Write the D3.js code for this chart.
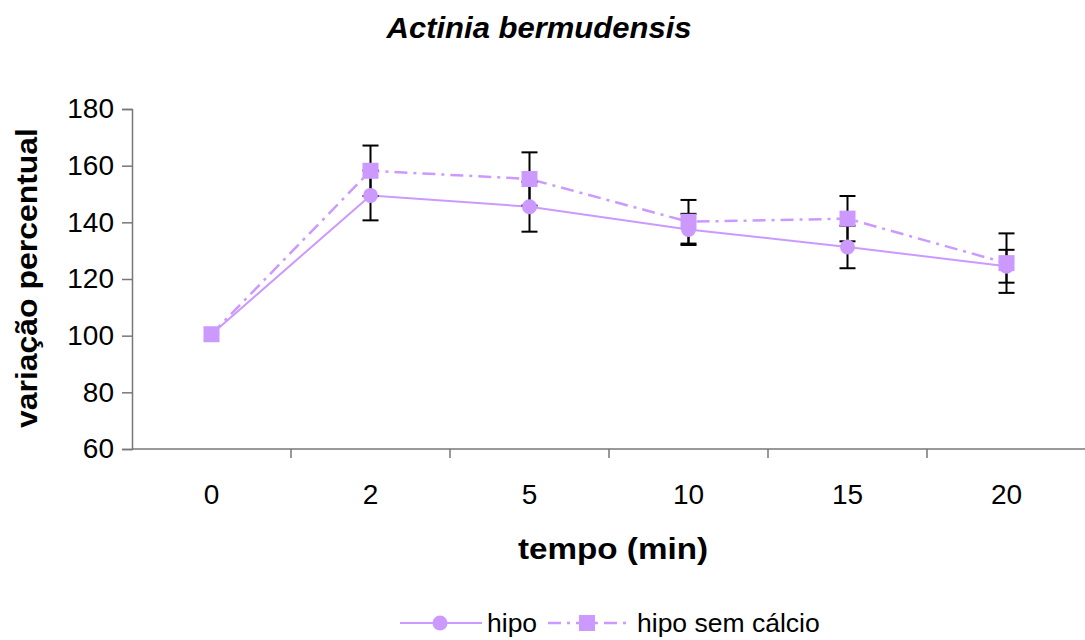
<!DOCTYPE html>
<html>
<head>
<meta charset="utf-8">
<script src="https://cdn.jsdelivr.net/npm/d3@7"></script>
<style>
  body { margin: 0; background: #fff; }
  text { font-family: Arial, "Liberation Sans", sans-serif; }
</style>
</head>
<body>
<svg class="chart"></svg>
<script>
var categories = ['0', '2', '5', '10', '15', '20'];
var hipo = [100.5, 149.5, 145.5, 137.5, 131.3, 124.5];
var hipoErr = [0, 8.8, 8.8, 5.5, 7.5, 5.8];
var semCalcio = [100.5, 158.2, 155.3, 140.2, 141.3, 125.6];
var semCalcioErr = [0, 8.9, 9.4, 7.7, 8, 10.5];
var yTicks = [60, 80, 100, 120, 140, 160, 180];

var settings = {
  width: 1085,
  height: 640,
  left: 132,
  right: 1086,
  top: 109,
  bottom: 449,
  color: '#CC99FF'
};

var svg = d3.select('.chart')
  .attr('width', settings.width)
  .attr('height', settings.height);

var x = d3.scalePoint().domain(categories).range([settings.left, settings.right]).padding(0.5);
var y = d3.scaleLinear().domain([60, 180]).range([settings.bottom, settings.top]);

// axes
var yAxis = svg.append('g')
  .attr('transform', 'translate(' + settings.left + ',0)')
  .call(d3.axisLeft(y).tickValues(yTicks).tickSize(10).tickPadding(8));
yAxis.select('.domain').attr('stroke', '#777').attr('stroke-width', 1.5);
yAxis.selectAll('.tick line').attr('stroke', '#777').attr('stroke-width', 1.5);
yAxis.selectAll('.tick text').attr('font-size', 28).attr('fill', '#000').attr('font-family', 'Arial, "Liberation Sans", sans-serif');

var xBand = d3.scaleBand().domain(categories).range([settings.left, settings.right]);
var xAxis = svg.append('g')
  .attr('transform', 'translate(0,' + settings.bottom + ')');
xAxis.append('line')
  .attr('x1', settings.left).attr('x2', settings.right)
  .attr('stroke', '#777').attr('stroke-width', 1.5);
xAxis.selectAll('.sep')
  .data(categories.slice(1))
  .enter().append('line')
  .attr('class', 'sep')
  .attr('x1', function(d) { return xBand(d); })
  .attr('x2', function(d) { return xBand(d); })
  .attr('y1', 0).attr('y2', 9)
  .attr('stroke', '#777').attr('stroke-width', 1.5);
xAxis.selectAll('.lbl')
  .data(categories)
  .enter().append('text')
  .attr('class', 'lbl')
  .attr('x', function(d) { return x(d); })
  .attr('y', 55)
  .attr('text-anchor', 'middle')
  .attr('font-size', 28)
  .text(function(d) { return d; });

// titles
svg.append('text')
  .attr('x', 539).attr('y', 38)
  .attr('text-anchor', 'middle')
  .attr('font-size', 30).attr('font-weight', 'bold').attr('font-style', 'italic')
  .attr('textLength', 305).attr('lengthAdjust', 'spacingAndGlyphs')
  .text('Actinia bermudensis');

svg.append('text')
  .attr('x', 613).attr('y', 559)
  .attr('text-anchor', 'middle')
  .attr('font-size', 30).attr('font-weight', 'bold')
  .attr('textLength', 190).attr('lengthAdjust', 'spacingAndGlyphs')
  .text('tempo (min)');

svg.append('text')
  .attr('transform', 'translate(37,278) rotate(-90)')
  .attr('text-anchor', 'middle')
  .attr('font-size', 30).attr('font-weight', 'bold')
  .attr('textLength', 300).attr('lengthAdjust', 'spacingAndGlyphs')
  .text('variação percentual');

// lines
var line = d3.line()
  .x(function(d, i) { return x(categories[i]); })
  .y(function(d) { return y(d); });

svg.append('path').datum(hipo)
  .attr('d', line).attr('fill', 'none')
  .attr('stroke', settings.color).attr('stroke-width', 2);
svg.append('path').datum(semCalcio)
  .attr('d', line).attr('fill', 'none')
  .attr('stroke', settings.color).attr('stroke-width', 2.5)
  .attr('stroke-dasharray', '13,6,3,6');

// error bars
function errorBars(values, errs) {
  var data = values.map(function(v, i) { return { c: categories[i], v: v, e: errs[i] }; })
    .filter(function(d) { return d.e > 0; });
  var g = svg.append('g').attr('stroke', '#000').attr('stroke-width', 2);
  data.forEach(function(d) {
    var cx = x(d.c);
    g.append('line').attr('x1', cx).attr('x2', cx).attr('y1', y(d.v - d.e)).attr('y2', y(d.v + d.e));
    g.append('line').attr('x1', cx - 8).attr('x2', cx + 8).attr('y1', y(d.v - d.e)).attr('y2', y(d.v - d.e));
    g.append('line').attr('x1', cx - 8).attr('x2', cx + 8).attr('y1', y(d.v + d.e)).attr('y2', y(d.v + d.e));
  });
}
errorBars(hipo, hipoErr);
errorBars(semCalcio, semCalcioErr);

// markers
svg.selectAll('.circ')
  .data(hipo)
  .enter().append('circle')
  .attr('class', 'circ')
  .attr('cx', function(d, i) { return x(categories[i]); })
  .attr('cy', function(d) { return y(d); })
  .attr('r', 7.5)
  .attr('fill', settings.color);

svg.selectAll('.sq')
  .data(semCalcio)
  .enter().append('rect')
  .attr('class', 'sq')
  .attr('x', function(d, i) { return x(categories[i]) - 8; })
  .attr('y', function(d) { return y(d) - 8; })
  .attr('width', 16).attr('height', 16)
  .attr('fill', settings.color);

// legend
var legend = svg.append('g').attr('transform', 'translate(0,623)');
legend.append('line').attr('x1', 400).attr('x2', 482).attr('y1', 0).attr('y2', 0)
  .attr('stroke', settings.color).attr('stroke-width', 2);
legend.append('circle').attr('cx', 440).attr('cy', 0).attr('r', 7.5).attr('fill', settings.color);
legend.append('text').attr('x', 487).attr('y', 9).attr('font-size', 26.5).text('hipo');
legend.append('line').attr('x1', 548).attr('x2', 630).attr('y1', 0).attr('y2', 0)
  .attr('stroke', settings.color).attr('stroke-width', 2.5).attr('stroke-dasharray', '13,6,3,6');
legend.append('rect').attr('x', 579).attr('y', -8).attr('width', 16).attr('height', 16).attr('fill', settings.color);
legend.append('text').attr('x', 637).attr('y', 9).attr('font-size', 26.5).text('hipo sem cálcio');
</script>
</body>
</html>
